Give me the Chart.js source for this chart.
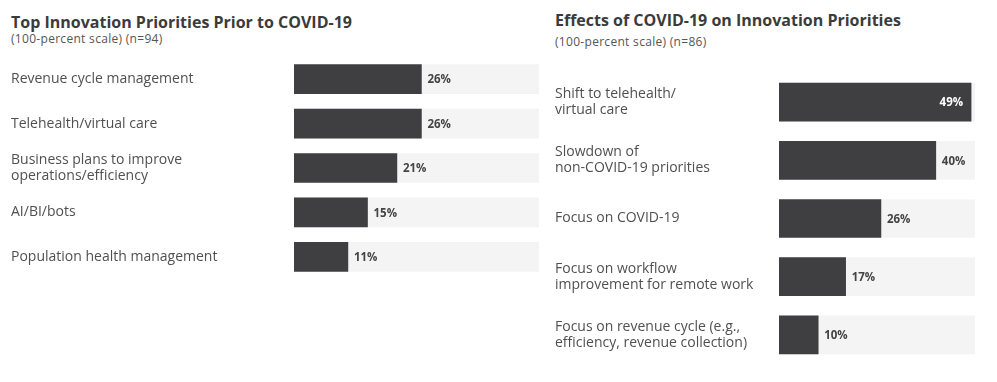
<!DOCTYPE html>
<html>
<head>
<meta charset="utf-8">
<script src="https://cdn.jsdelivr.net/npm/chart.js@4.4.1/dist/chart.umd.min.js"></script>
<style>
  html, body { margin: 0; padding: 0; background: #ffffff; }
  body { width: 997px; height: 382px; position: relative; overflow: hidden; font-family: "Open Sans", sans-serif; }
  .title { position: absolute; font-weight: 700; font-size: 16px; color: #3b3b3b; white-space: nowrap; }
  .sub { position: absolute; font-size: 12px; color: #555; white-space: nowrap; letter-spacing: 0.3px; }
  canvas { position: absolute; top: 0; }
</style>
</head>
<body>
<div class="title" id="t1" style="left:11px; top:11px;">Top Innovation Priorities Prior to COVID-19</div>
<div class="sub" id="s1" style="left:11px; top:30px;">(100-percent scale) (n=94)</div>
<div class="title" id="t2" style="left:555px; top:9px;">Effects of COVID-19 on Innovation Priorities</div>
<div class="sub" id="s2" style="left:555px; top:33px;">(100-percent scale) (n=86)</div>
<div style="position:absolute; left:0; top:0; width:545px; height:382px;"><canvas id="c1"></canvas></div>
<div style="position:absolute; left:545px; top:0; width:452px; height:382px;"><canvas id="c2"></canvas></div>
<script>
// ---- data ----
const leftCategories = [
  "Revenue cycle management",
  "Telehealth/virtual care",
  ["Business plans to improve", "operations/efficiency"],
  "AI/BI/bots",
  "Population health management"
];
const leftValues = [26, 26, 21, 15, 11];
const leftTrack = [50, 50, 50, 50, 50];

const rightCategories = [
  ["Shift to telehealth/", "virtual care"],
  ["Slowdown of", "non-COVID-19 priorities"],
  "Focus on COVID-19",
  ["Focus on workflow", "improvement for remote work"],
  ["Focus on revenue cycle (e.g.,", "efficiency, revenue collection)"]
];
const rightValues = [49, 40, 26, 17, 10];
const rightTrack = [50, 50, 50, 50, 50];

const scaleMax = 50;

// ---- styles ----
const BAR = "#3f3f41";
const TRACK = "#f4f4f4";
const LABEL = "#505050";
const VALUE = "#444444";
const FONT = "'Open Sans', sans-serif";

const valueLabels = {
  id: "valueLabels",
  afterDatasetsDraw(chart) {
    const ctx = chart.ctx;
    const meta = chart.getDatasetMeta(1);
    const data = chart.data.datasets[1].data;
    const area = chart.chartArea;
    ctx.save();
    ctx.font = "700 11.5px " + FONT;
    ctx.textBaseline = "middle";
    meta.data.forEach((bar, i) => {
      const txt = data[i] + "%";
      const w = ctx.measureText(txt).width;
      if (bar.x + 6 + w > area.right) {
        ctx.fillStyle = "#ffffff";
        ctx.textAlign = "right";
        ctx.fillText(txt, bar.x - 8, bar.y + 1);
      } else {
        ctx.fillStyle = VALUE;
        ctx.textAlign = "left";
        ctx.fillText(txt, bar.x + 6, bar.y + 1);
      }
    });
    ctx.restore();
  }
};

function makeChart(id, cats, vals, track, opts) {
  return new Chart(document.getElementById(id), {
    type: "bar",
    data: {
      labels: cats,
      datasets: [
        { data: track, backgroundColor: TRACK, grouped: false, barThickness: opts.thick, order: 2 },
        { data: vals, backgroundColor: BAR, grouped: false, barThickness: opts.thick, order: 1 }
      ]
    },
    options: {
      indexAxis: "y",
      responsive: true,
      maintainAspectRatio: false,
      animation: false,
      layout: { padding: opts.padding },
      plugins: { legend: { display: false }, tooltip: { enabled: false }, title: { display: false } },
      scales: {
        x: { min: 0, max: scaleMax, display: false },
        y: {
          grid: { display: false },
          border: { display: false },
          ticks: {
            crossAlign: "far",
            padding: 0,
            color: LABEL,
            font: { family: FONT, size: 14, lineHeight: opts.lh }
          },
          afterFit(scale) { scale.width = opts.axisWidth; }
        }
      }
    },
    plugins: [valueLabels]
  });
}

makeChart("c1", leftCategories, leftValues, leftTrack, {
  thick: 29, lh: 1.2, axisWidth: 283,
  padding: { left: 11, right: 6, top: 57, bottom: 103 }
});
makeChart("c2", rightCategories, rightValues, rightTrack, {
  thick: 38, lh: 1.15, axisWidth: 224,
  padding: { left: 10, right: 22, top: 73, bottom: 18 }
});
</script>
</body>
</html>
